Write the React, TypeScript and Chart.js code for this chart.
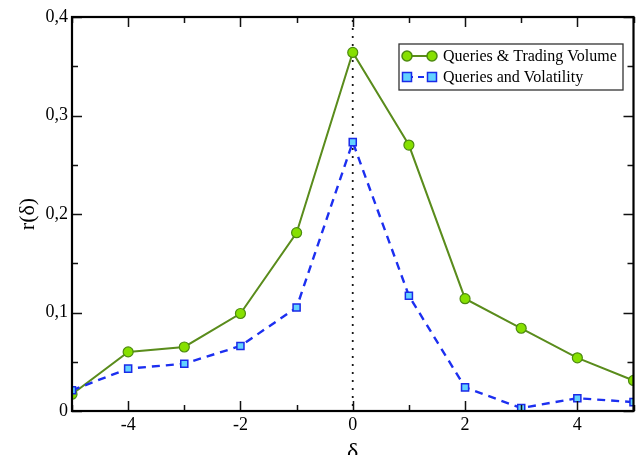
import React, { useEffect, useRef } from "react";
import { Chart, registerables } from "chart.js";

Chart.register(...registerables);

const deltas = [-5, -4, -3, -2, -1, 0, 1, 2, 3, 4, 5];
const volumeCorr = [0.017, 0.06, 0.065, 0.099, 0.181, 0.364, 0.27, 0.114, 0.084, 0.054, 0.031];
const volatilityCorr = [0.021, 0.043, 0.048, 0.066, 0.105, 0.273, 0.117, 0.024, 0.003, 0.013, 0.009];
const xMajorTicks = [-4, -2, 0, 2, 4];
const xMinorTicks = [-5, -3, -1, 1, 3, 5];
const yMajorTicks = [0, 0.1, 0.2, 0.3, 0.4];
const yMinorTicks = [0.05, 0.15, 0.25, 0.35];
const seriesLabels = ["Queries & Trading Volume", "Queries and Volatility"];

const GREEN_LINE = "#5a8c1c";
const GREEN_FILL = "#86e000";
const GREEN_EDGE = "#4d8a10";
const BLUE_LINE = "#1c2ff0";
const BLUE_FILL = "#63d2ff";
const BLUE_EDGE = "#1a2ae8";
const FONT = "'Liberation Serif', 'DejaVu Serif', serif";

const frame = {
  id: "frame",
  beforeDatasetsDraw(chart: any) {
    const { ctx, chartArea, scales } = chart;
    const x0 = scales.x.getPixelForValue(0);
    ctx.save();
    ctx.fillStyle = "#000";
    for (let y = chartArea.top + 4; y < chartArea.bottom; y += 8) {
      ctx.beginPath();
      ctx.arc(x0, y, 1.1, 0, Math.PI * 2);
      ctx.fill();
    }
    ctx.restore();
  },
  afterDraw(chart: any) {
    const { ctx, chartArea, scales } = chart;
    const { left, right, top, bottom } = chartArea;
    ctx.save();
    ctx.strokeStyle = "#111";
    ctx.lineWidth = 1.5;
    const tick = (vals: number[], len: number, axis: "x" | "y") => {
      vals.forEach((v) => {
        if (axis === "x") {
          const p = Math.round(scales.x.getPixelForValue(v)) + 0.5;
          ctx.beginPath();
          ctx.moveTo(p, bottom);
          ctx.lineTo(p, bottom - len);
          ctx.moveTo(p, top);
          ctx.lineTo(p, top + len);
          ctx.stroke();
        } else {
          const p = Math.round(scales.y.getPixelForValue(v)) + 0.5;
          ctx.beginPath();
          ctx.moveTo(left, p);
          ctx.lineTo(left + len, p);
          ctx.moveTo(right, p);
          ctx.lineTo(right - len, p);
          ctx.stroke();
        }
      });
    };
    tick(xMajorTicks, 10, "x");
    tick(xMinorTicks, 6, "x");
    tick(yMajorTicks, 10, "y");
    tick(yMinorTicks, 6, "y");
    ctx.lineWidth = 2.2;
    ctx.strokeStyle = "#000";
    ctx.strokeRect(left, top, right - left, bottom - top);

    // legend
    const lx = 399, ly = 44, lw = 224, lh = 46;
    ctx.fillStyle = "#fff";
    ctx.fillRect(lx, ly, lw, lh);
    ctx.lineWidth = 1.3;
    ctx.strokeStyle = "#333";
    ctx.strokeRect(lx, ly, lw, lh);
    const rows = [
      { y: 56, label: seriesLabels[0], line: GREEN_LINE, fill: GREEN_FILL, edge: GREEN_EDGE, dash: [] as number[], shape: "circle" },
      { y: 77, label: seriesLabels[1], line: BLUE_LINE, fill: BLUE_FILL, edge: BLUE_EDGE, dash: [6, 5], shape: "square" },
    ];
    rows.forEach((r) => {
      ctx.strokeStyle = r.line;
      ctx.lineWidth = 2;
      ctx.setLineDash(r.dash);
      ctx.beginPath();
      ctx.moveTo(407, r.y);
      ctx.lineTo(432, r.y);
      ctx.stroke();
      ctx.setLineDash([]);
      [407, 432].forEach((cx) => {
        ctx.fillStyle = r.fill;
        ctx.strokeStyle = r.edge;
        ctx.lineWidth = 1.5;
        ctx.beginPath();
        if (r.shape === "circle") ctx.arc(cx, r.y, 5, 0, Math.PI * 2);
        else ctx.rect(cx - 4.5, r.y - 4.5, 9, 9);
        ctx.fill();
        ctx.stroke();
      });
      ctx.fillStyle = "#000";
      ctx.font = `16px ${FONT}`;
      ctx.textBaseline = "middle";
      ctx.textAlign = "left";
      ctx.fillText(r.label, 443, r.y + 1);
    });
    ctx.restore();
  },
};

export default function App() {
  const ref = useRef<HTMLCanvasElement>(null);
  useEffect(() => {
    if (!ref.current) return;
    const chart = new Chart(ref.current, {
      type: "line",
      data: {
        datasets: [
          {
            label: seriesLabels[1],
            data: deltas.map((d, i) => ({ x: d, y: volatilityCorr[i] })),
            borderColor: BLUE_LINE,
            borderWidth: 2.4,
            borderDash: [8, 6],
            pointStyle: "rect",
            pointRadius: 5,
            pointBackgroundColor: BLUE_FILL,
            pointBorderColor: BLUE_EDGE,
            pointBorderWidth: 1.5,
            tension: 0,
            order: 0,
          },
          {
            label: seriesLabels[0],
            data: deltas.map((d, i) => ({ x: d, y: volumeCorr[i] })),
            borderColor: GREEN_LINE,
            borderWidth: 2,
            pointStyle: "circle",
            pointRadius: 5,
            pointBackgroundColor: GREEN_FILL,
            pointBorderColor: GREEN_EDGE,
            pointBorderWidth: 1.2,
            tension: 0,
            order: 1,
          },
        ],
      },
      options: {
        animation: false,
        responsive: false,
        maintainAspectRatio: false,
        layout: { padding: { top: 17, right: 4, left: 0, bottom: 0 } },
        plugins: { legend: { display: false }, tooltip: { enabled: false } },
        scales: {
          x: {
            type: "linear",
            min: -5,
            max: 5,
            grid: { display: false, drawTicks: false },
            border: { display: false },
            afterBuildTicks: (s: any) => {
              s.ticks = xMajorTicks.map((v) => ({ value: v }));
            },
            afterFit: (s: any) => {
              s.height = 44;
            },
            ticks: {
              padding: 3,
              color: "#000",
              font: { family: FONT, size: 18 },
              callback: (v: any) => String(v),
            },
            title: {
              display: true,
              text: "δ",
              color: "#000",
              font: { family: FONT, size: 24, lineHeight: 0.2 },
              padding: { top: 0, bottom: 0 },
            },
          },
          y: {
            type: "linear",
            min: 0,
            max: 0.4,
            grid: { display: false, drawTicks: false },
            border: { display: false },
            afterBuildTicks: (s: any) => {
              s.ticks = yMajorTicks.map((v) => ({ value: v }));
            },
            afterFit: (s: any) => {
              s.width = 72;
            },
            ticks: {
              padding: 4,
              color: "#000",
              font: { family: FONT, size: 18 },
              callback: (v: any) => (v === 0 ? "0" : Number(v).toFixed(1).replace(".", ",")),
            },
            title: {
              display: true,
              text: "r(δ)",
              color: "#000",
              font: { family: FONT, size: 22 },
              padding: { top: 15, bottom: 0 },
            },
          },
        },
      },
      plugins: [frame],
    });
    return () => chart.destroy();
  }, []);
  return (
    <div style={{ position: "absolute", left: 0, top: 0, width: 640, height: 455, background: "#fff" }}>
      <canvas ref={ref} width={640} height={455} style={{ width: 640, height: 455 }} />
    </div>
  );
}
